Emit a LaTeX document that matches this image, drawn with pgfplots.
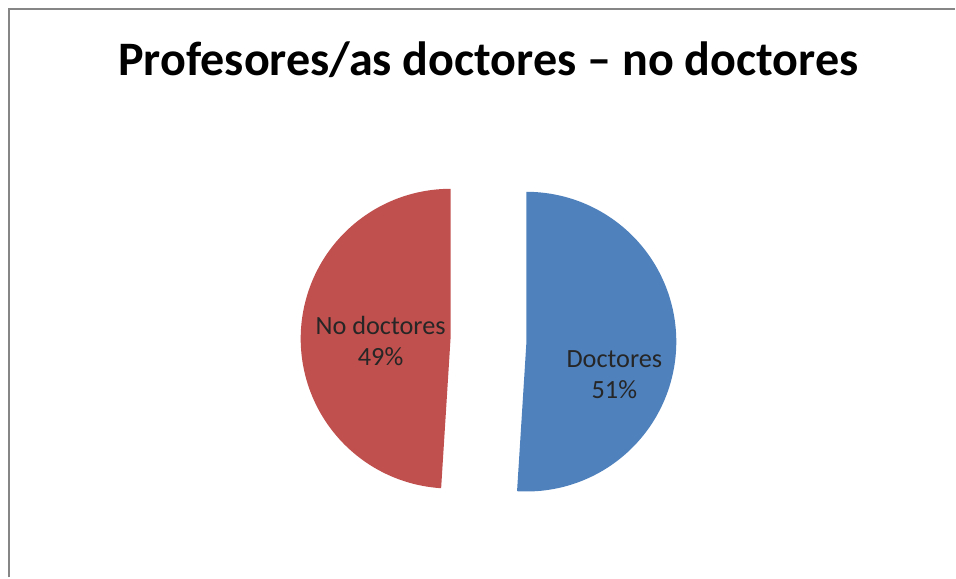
\documentclass[border=0pt]{standalone}
\usepackage{fontspec}
\setmainfont{Carlito}
\usepackage{pgfplots}
\pgfplotsset{compat=1.18}
\definecolor{pieblue}{HTML}{4F81BD}
\definecolor{piered}{HTML}{C0504D}
\definecolor{framegray}{RGB}{134,134,134}
\begin{document}
\begin{tikzpicture}
% data: Doctores 51, No doctores 49
\pgfmathsetmacro{\vA}{51}
\pgfmathsetmacro{\vB}{49}
\pgfmathsetmacro{\aA}{\vA/(\vA+\vB)*360}
\begin{axis}[
  scale only axis, width=956bp, height=578bp,
  xmin=0, xmax=956, ymin=0, ymax=578, y dir=reverse,
  hide axis, clip=false,
]
\path (axis cs:0,0) rectangle (axis cs:956,578);
% Doctores slice (exploded to the right)
\addplot[fill=pieblue, draw=none, domain=0:\aA, samples=181]
  ({527+150*sin(x)}, {342-150*cos(x)}) -- (axis cs:527,342) -- cycle;
% No doctores slice (exploded to the left)
\addplot[fill=piered, draw=none, domain=\aA:360, samples=181]
  ({451+150*sin(x)}, {339-150*cos(x)}) -- (axis cs:451,339) -- cycle;
% frame
\draw[framegray, line width=2bp] (axis cs:9,578) -- (axis cs:9,9) -- (axis cs:956,9);
% title
\node[anchor=base, font=\fontsize{48.3}{56}\bfseries] at (axis cs:489,76) {Profesores/as doctores – no doctores};
% labels
\node[align=center, font=\fontsize{26.4}{31}\selectfont, text=black!85] at (axis cs:381,341) {No doctores\\49\%};
\node[align=center, font=\fontsize{26.4}{31}\selectfont, text=black!85] at (axis cs:615,375) {Doctores\\51\%};
\end{axis}
\end{tikzpicture}
\end{document}
